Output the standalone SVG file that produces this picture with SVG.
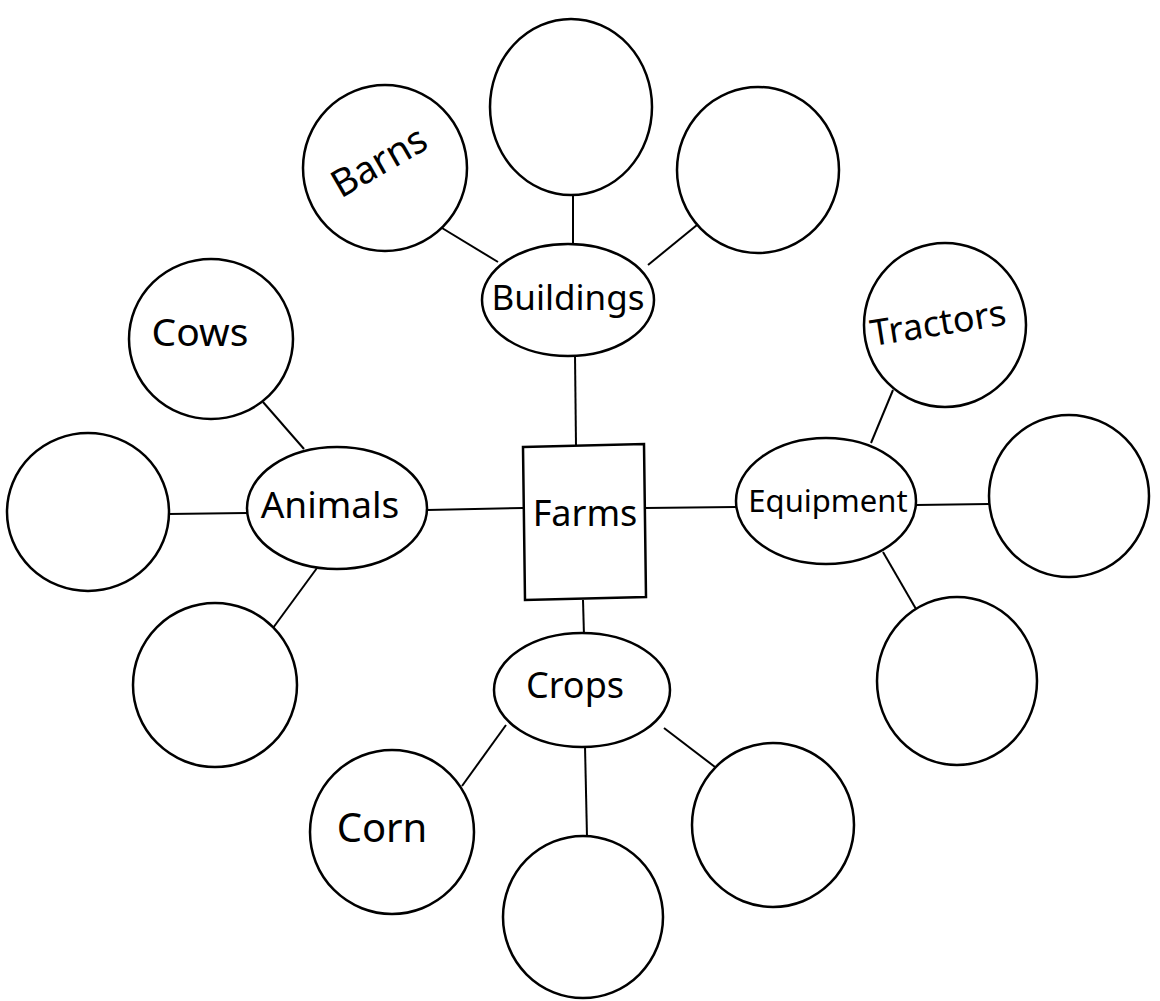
<svg xmlns="http://www.w3.org/2000/svg" width="1160" height="1001" viewBox="0 0 1160 1001">
<style>
.n{fill:#fff;stroke:#000;stroke-width:2.5}
.c{stroke:#000;stroke-width:2;fill:none}
.t{font-family:"Noto Sans","DejaVu Sans",sans-serif;font-size:32px;fill:#000;text-anchor:middle;dominant-baseline:central}
</style>
<rect width="1160" height="1001" fill="#fff"/>
<g id="connectors">
<line class="c" x1="575" y1="355" x2="576" y2="446"/>
<line class="c" x1="573" y1="195" x2="573" y2="244"/>
<line class="c" x1="442" y1="228" x2="498" y2="262"/>
<line class="c" x1="697" y1="225" x2="648" y2="265"/>
<line class="c" x1="263" y1="402" x2="304" y2="449"/>
<line class="c" x1="168" y1="514" x2="247" y2="513"/>
<line class="c" x1="317" y1="568" x2="273" y2="628"/>
<line class="c" x1="427" y1="510" x2="523" y2="508"/>
<line class="c" x1="645" y1="508" x2="736" y2="507"/>
<line class="c" x1="893" y1="390" x2="871" y2="443"/>
<line class="c" x1="916" y1="505" x2="989" y2="504"/>
<line class="c" x1="883" y1="552" x2="916" y2="609"/>
<line class="c" x1="583" y1="600" x2="584" y2="636"/>
<line class="c" x1="506" y1="725" x2="462" y2="786"/>
<line class="c" x1="585" y1="746" x2="587" y2="837"/>
<line class="c" x1="664" y1="728" x2="715" y2="767"/>
</g>
<g id="farms"><path class="n" d="M523 447 L644 444 L646 597 L525 600 Z"/><text class="t" x="585" y="512" style="font-size:36px">Farms</text></g>
<g id="buildings"><ellipse class="n" cx="568" cy="300" rx="86" ry="56"/><text class="t" x="568" y="296" style="font-size:35px">Buildings</text></g>
<g id="top"><ellipse class="n" cx="571" cy="107" rx="81" ry="88"/></g>
<g id="barns"><ellipse class="n" cx="385" cy="168" rx="82" ry="83"/><text class="t" x="378" y="160" transform="rotate(-30 378 160)" style="font-size:38px">Barns</text></g>
<g id="topright"><ellipse class="n" cx="758" cy="170" rx="81" ry="83"/></g>
<g id="cows"><ellipse class="n" cx="211" cy="339" rx="82" ry="80"/><text class="t" x="200" y="330" style="font-size:39px">Cows</text></g>
<g id="animals"><ellipse class="n" cx="337" cy="508" rx="90" ry="61"/><text class="t" x="330" y="503" style="font-size:37px">Animals</text></g>
<g id="left"><ellipse class="n" cx="88" cy="512" rx="81" ry="79"/></g>
<g id="bottomleft"><ellipse class="n" cx="215" cy="685" rx="82" ry="82"/></g>
<g id="equipment"><ellipse class="n" cx="826" cy="501" rx="90" ry="63"/><text class="t" x="828" y="500" style="font-size:31px">Equipment</text></g>
<g id="tractors"><ellipse class="n" cx="945" cy="325" rx="81" ry="82"/><text class="t" x="938" y="322" transform="rotate(-9 938 322)" style="font-size:36px">Tractors</text></g>
<g id="right"><ellipse class="n" cx="1069" cy="496" rx="80" ry="81"/></g>
<g id="equipbr"><ellipse class="n" cx="957" cy="681" rx="80" ry="84"/></g>
<g id="crops"><ellipse class="n" cx="582" cy="690" rx="88" ry="57"/><text class="t" x="575" y="684" style="font-size:36px">Crops</text></g>
<g id="corn"><ellipse class="n" cx="392" cy="832" rx="82" ry="82"/><text class="t" x="382" y="826" style="font-size:40px">Corn</text></g>
<g id="bottom"><ellipse class="n" cx="583" cy="917" rx="80" ry="81"/></g>
<g id="cropsright"><ellipse class="n" cx="773" cy="825" rx="81" ry="82"/></g>
</svg>
